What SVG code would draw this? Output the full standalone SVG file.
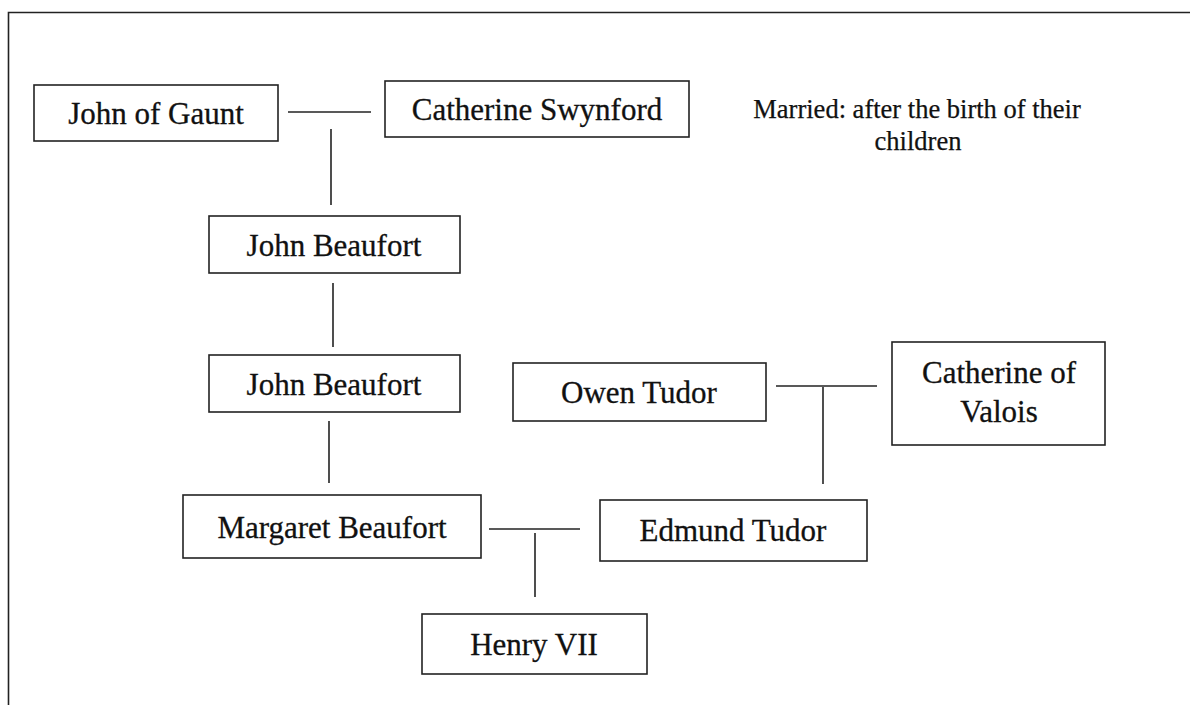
<svg xmlns="http://www.w3.org/2000/svg" width="1190" height="705" viewBox="0 0 1190 705">
<style>
.box{fill:#fff;stroke:#222;stroke-width:1.6}
.lbl{font-family:"Liberation Serif","Times New Roman",serif;font-size:31px;fill:#111;stroke:#111;stroke-width:0.3;text-anchor:middle}
.note{font-family:"Liberation Serif","Times New Roman",serif;font-size:26.5px;fill:#111;stroke:#111;stroke-width:0.25;text-anchor:middle}
.ln{stroke:#222;stroke-width:1.6;fill:none}
</style>
<rect width="1190" height="705" fill="#fff"/>
<path class="ln" d="M8.5,705 V12.5 H1190" stroke-width="2"/>
<g id="connectors">
<line class="ln" x1="288" y1="112" x2="371" y2="112"/>
<line class="ln" x1="331" y1="129" x2="331" y2="205"/>
<line class="ln" x1="333" y1="283" x2="333" y2="347"/>
<line class="ln" x1="329" y1="421" x2="329" y2="483"/>
<line class="ln" x1="489" y1="529" x2="580" y2="529"/>
<line class="ln" x1="535" y1="533" x2="535" y2="597"/>
<line class="ln" x1="776" y1="386" x2="877" y2="386"/>
<line class="ln" x1="823" y1="387" x2="823" y2="484"/>
</g>
<g id="john-of-gaunt"><rect class="box" x="34" y="85" width="244" height="56"/><text class="lbl" x="156" y="124">John of Gaunt</text></g>
<g id="catherine-swynford"><rect class="box" x="385" y="81" width="304" height="56"/><text class="lbl" x="537" y="120">Catherine Swynford</text></g>
<g id="note"><text class="note" x="917" y="118">Married: after the birth of their</text><text class="note" x="918" y="150">children</text></g>
<g id="john-beaufort-1"><rect class="box" x="209" y="216" width="251" height="57"/><text class="lbl" x="334" y="256">John Beaufort</text></g>
<g id="john-beaufort-2"><rect class="box" x="209" y="355" width="251" height="57"/><text class="lbl" x="334" y="395">John Beaufort</text></g>
<g id="owen-tudor"><rect class="box" x="513" y="363" width="253" height="58"/><text class="lbl" x="639" y="403">Owen Tudor</text></g>
<g id="catherine-of-valois"><rect class="box" x="892" y="342" width="213" height="103"/><text class="lbl" x="999" y="383">Catherine of</text><text class="lbl" x="999" y="422">Valois</text></g>
<g id="margaret-beaufort"><rect class="box" x="183" y="495" width="298" height="63"/><text class="lbl" x="332" y="538">Margaret Beaufort</text></g>
<g id="edmund-tudor"><rect class="box" x="600" y="500" width="267" height="61"/><text class="lbl" x="733" y="541">Edmund Tudor</text></g>
<g id="henry-vii"><rect class="box" x="422" y="614" width="225" height="60"/><text class="lbl" x="534" y="655">Henry VII</text></g>
</svg>
